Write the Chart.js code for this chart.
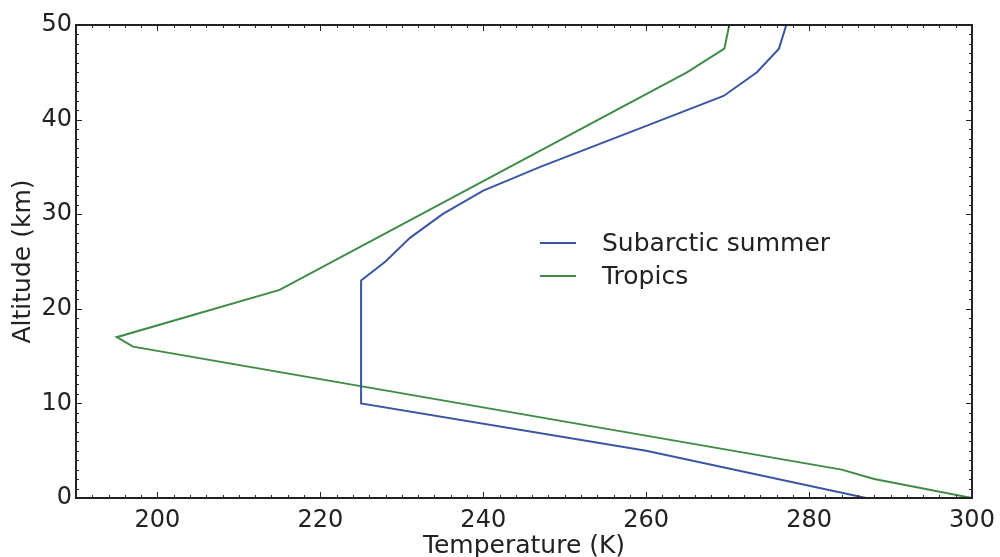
<!DOCTYPE html>
<html>
<head>
<meta charset="utf-8">
<script src="https://cdn.jsdelivr.net/npm/chart.js@4.4.1/dist/chart.umd.min.js"></script>
<style>
  html, body { margin: 0; padding: 0; background: #fff; }
  #wrap { width: 1000px; height: 557px; position: relative; }
</style>
</head>
<body>
<div id="wrap"><canvas id="profileChart"></canvas></div>
<script>
// ── Data: temperature profiles (K) vs altitude (km), vertices ──
const subarcticAlt  = [0, 5, 10, 23, 25, 27.5, 30, 32.5, 35, 40, 42.5, 45, 47.5, 50];
const subarcticTemp = [287, 260, 225, 225, 228, 231, 235, 240, 247, 262, 269.5, 273.6, 276.3, 277.2];

const tropicsAlt  = [0, 2, 3, 16, 17, 22, 45, 47.5, 50];
const tropicsTemp = [300, 288, 284, 197, 195, 215, 265, 269.6, 270.2];

const seriesLabels = ['Subarctic summer', 'Tropics'];
const seriesColors = ['#3b55a3', '#3f8b47'];

const xTicks = [200, 220, 240, 260, 280, 300];
const yTicks = [0, 10, 20, 30, 40, 50];

const FONT = "'DejaVu Sans', sans-serif";
const INK = '#222';

function toPoints(xs, ys) {
  return xs.map((x, i) => ({ x: x, y: ys[i] }));
}

// ── Inward ticks on all four sides + box ──
const frameTicks = {
  id: 'frameTicks',
  afterDatasetsDraw(chart) {
    const { ctx, chartArea: a, scales } = chart;
    const xs = scales.x, ys = scales.y;
    ctx.save();
    ctx.strokeStyle = INK;
    ctx.lineWidth = 1;
    ctx.beginPath();
    for (let v = 190; v <= 300; v += 2) {
      const px = Math.round(xs.getPixelForValue(v)) + 0.5;
      const len = (v % 20 === 0) ? 6 : 3;
      ctx.moveTo(px, a.bottom); ctx.lineTo(px, a.bottom - len);
      ctx.moveTo(px, a.top);    ctx.lineTo(px, a.top + len);
    }
    for (let v = 0; v <= 50; v += 1) {
      const py = Math.round(ys.getPixelForValue(v)) + 0.5;
      const len = (v % 10 === 0) ? 6 : 3;
      ctx.moveTo(a.left, py);  ctx.lineTo(a.left + len, py);
      ctx.moveTo(a.right, py); ctx.lineTo(a.right - len, py);
    }
    ctx.stroke();
    ctx.lineWidth = 2;
    ctx.strokeRect(a.left, a.top, a.right - a.left, a.bottom - a.top);
    ctx.restore();
  }
};

// ── Legend drawn inside the plot ──
const innerLegend = {
  id: 'innerLegend',
  afterDraw(chart) {
    const { ctx } = chart;
    ctx.save();
    ctx.font = '25px ' + FONT;
    ctx.textBaseline = 'middle';
    chart.data.datasets.forEach((ds, i) => {
      const y = 243 + i * 33;
      ctx.strokeStyle = ds.borderColor;
      ctx.lineWidth = 2;
      ctx.beginPath();
      ctx.moveTo(540, y); ctx.lineTo(576, y);
      ctx.stroke();
      ctx.fillStyle = INK;
      ctx.fillText(ds.label, 602, y + 1);
    });
    ctx.restore();
  }
};

new Chart(document.getElementById('profileChart'), {
  type: 'scatter',
  data: {
    datasets: [
      {
        label: seriesLabels[0],
        data: toPoints(subarcticTemp, subarcticAlt),
        borderColor: seriesColors[0],
        showLine: true, borderWidth: 2, pointRadius: 0, tension: 0
      },
      {
        label: seriesLabels[1],
        data: toPoints(tropicsTemp, tropicsAlt),
        borderColor: seriesColors[1],
        showLine: true, borderWidth: 2, pointRadius: 0, tension: 0
      }
    ]
  },
  options: {
    responsive: true,
    maintainAspectRatio: false,
    animation: false,
    layout: { padding: { top: 25, right: 28, left: 8, bottom: 0 } },
    plugins: { legend: { display: false }, tooltip: { enabled: false } },
    scales: {
      x: {
        type: 'linear', min: 190, max: 300,
        afterBuildTicks: s => { s.ticks = xTicks.map(v => ({ value: v })); },
        afterFit: s => { s.height = 59; s.paddingLeft = 0; s.paddingRight = 0; },
        grid: { display: false, drawTicks: false },
        border: { display: false },
        ticks: { color: INK, font: { family: FONT, size: 24 }, padding: 8, maxRotation: 0 },
        title: { display: true, text: 'Temperature (K)', color: INK, font: { family: FONT, size: 25 }, padding: { top: 0, bottom: -4 } }
      },
      y: {
        type: 'linear', min: 0, max: 50,
        afterBuildTicks: s => { s.ticks = yTicks.map(v => ({ value: v })); },
        afterFit: s => { s.width = 68; },
        grid: { display: false, drawTicks: false },
        border: { display: false },
        ticks: { color: INK, font: { family: FONT, size: 24 }, padding: 4 },
        title: { display: true, text: 'Altitude (km)', color: INK, font: { family: FONT, size: 25 }, padding: { top: 0, bottom: 0 } }
      }
    }
  },
  plugins: [frameTicks, innerLegend]
});
</script>
</body>
</html>
